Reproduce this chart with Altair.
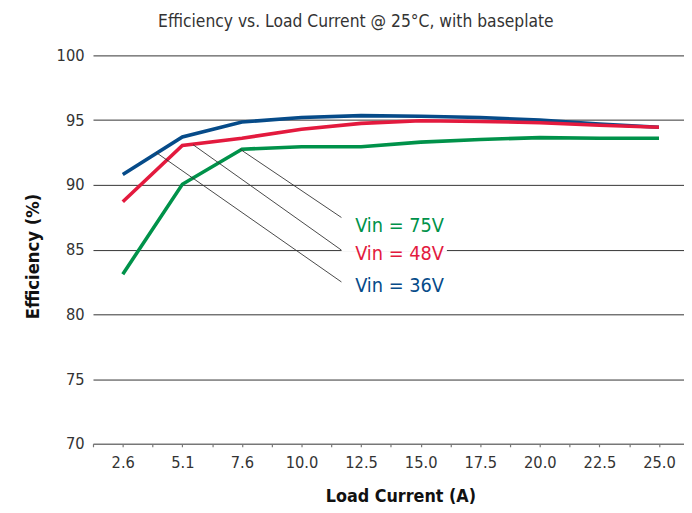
import altair as alt
import pandas as pd

currents = ["2.6", "5.1", "7.6", "10.0", "12.5", "15.0", "17.5", "20.0", "22.5", "25.0"]
vin36 = [90.8, 93.7, 94.85, 95.2, 95.35, 95.3, 95.2, 95.0, 94.7, 94.45]
vin48 = [88.7, 93.05, 93.6, 94.3, 94.75, 94.95, 94.9, 94.8, 94.6, 94.45]
vin75 = [83.1, 90.05, 92.75, 92.95, 92.95, 93.3, 93.5, 93.65, 93.6, 93.6]

series_names = ["Vin = 36V", "Vin = 48V", "Vin = 75V"]
series_colors = ["#064b89", "#e31a3e", "#00924a"]

# annotation leader lines (x in category-index units, y in %)
lead_x1 = [0.56, 1.18, 1.97]
lead_y1 = [92.5, 93.1, 92.75]
lead_x2 = [3.67, 3.67, 3.67]
lead_y2 = [82.5, 84.96, 87.48]
label_x = [3.9, 3.9, 3.9]
label_y = [81.76, 84.2, 86.34]

# white gap behind the 48V label on the 85% grid line
gap_x = [3.67]
gap_x2 = [5.44]
gap_y = [84.85]
gap_y2 = [85.15]

rows = []
for name, vals in zip(series_names, [vin36, vin48, vin75]):
    for i, v in enumerate(vals):
        rows.append({"idx": i, "eff": v, "series": name})
df = pd.DataFrame(rows)

lead_df = pd.DataFrame({"idx": lead_x1, "eff": lead_y1, "idx2": lead_x2, "eff2": lead_y2})
lab_df = pd.DataFrame({"idx": label_x, "eff": label_y, "series": series_names})
gap_df = pd.DataFrame({"idx": gap_x, "idx2": gap_x2, "eff": gap_y, "eff2": gap_y2})

FONT = "DejaVu Sans Condensed, Liberation Sans Narrow, Roboto, sans-serif"

label_expr = ""
for i, c in enumerate(currents):
    label_expr += "datum.value == %d ? '%s' : " % (i, c)
label_expr += "''"
tick_vals = [i * 0.5 - 0.5 for i in range(21)]

x_scale = alt.Scale(domain=[-0.5, 9.42], nice=False, zero=False)
y_scale = alt.Scale(domain=[70, 100], nice=False, zero=False)
color_scale = alt.Scale(domain=series_names, range=series_colors)

x_axis = alt.Axis(
    values=tick_vals,
    labelExpr=label_expr,
    grid=False,
    domainColor="#777777",
    domainWidth=1.2,
    tickColor="#777777",
    tickSize=3,
    tickWidth=1.2,
    labelFont=FONT,
    labelFontSize=16.5,
    labelColor="#333333",
    labelPadding=8,
    title="Load Current (A)",
    titleFont=FONT,
    titleFontSize=18,
    titleFontWeight="bold",
    titleColor="#111111",
    titleX=311,
    titleY=53,
    titleBaseline="middle",
    titleAlign="center",
)
y_axis = alt.Axis(
    values=[70, 75, 80, 85, 90, 95, 100],
    grid=True,
    gridColor="#333333",
    gridWidth=1,
    domain=False,
    ticks=False,
    labelFont=FONT,
    labelFontSize=16.5,
    labelColor="#333333",
    labelPadding=9,
    title="Efficiency (%)",
    titleFont=FONT,
    titleFontSize=18.5,
    titleFontWeight="bold",
    titleColor="#111111",
    titleX=-61,
    titleY=203,
    titleAngle=270,
    titleBaseline="middle",
    titleAlign="center",
)

X = alt.X("idx:Q", scale=x_scale, axis=x_axis, title="Load Current (A)")
Y = alt.Y("eff:Q", scale=y_scale, axis=y_axis, title="Efficiency (%)")

lines = alt.Chart(df).mark_line(strokeWidth=3.6, strokeJoin="miter", clip=True).encode(
    x=X,
    y=Y,
    color=alt.Color("series:N", scale=color_scale, legend=None),
    detail="series:N",
)

gap = alt.Chart(gap_df).mark_rect(color="white").encode(
    x=X, x2="idx2:Q", y=Y, y2="eff2:Q",
)

leaders = alt.Chart(lead_df).mark_rule(color="#333333", strokeWidth=0.9).encode(
    x=X, x2="idx2:Q", y=Y, y2="eff2:Q",
)

labels = alt.Chart(lab_df).mark_text(
    align="left", baseline="alphabetic", font=FONT, fontSize=20
).encode(
    x=X,
    y=Y,
    text="series:N",
    color=alt.Color("series:N", scale=color_scale, legend=None),
)

chart = (
    alt.layer(lines, gap, leaders, labels)
    .properties(
        width=598,
        height=393,
        padding={"left": 86, "top": 45, "right": 0, "bottom": 62},
        autosize=alt.AutoSizeParams(type="none"),
        background="white",
        title=alt.TitleParams(
            "Efficiency vs. Load Current @ 25°C, with baseplate",
            font=FONT,
            fontSize=17.5,
            fontWeight="normal",
            color="#333333",
            anchor="middle",
            dx=-33,
            offset=17,
        ),
    )
    .configure_view(stroke=None)
)

chart.save("out.html", embed_options={"renderer": "svg", "actions": False})
